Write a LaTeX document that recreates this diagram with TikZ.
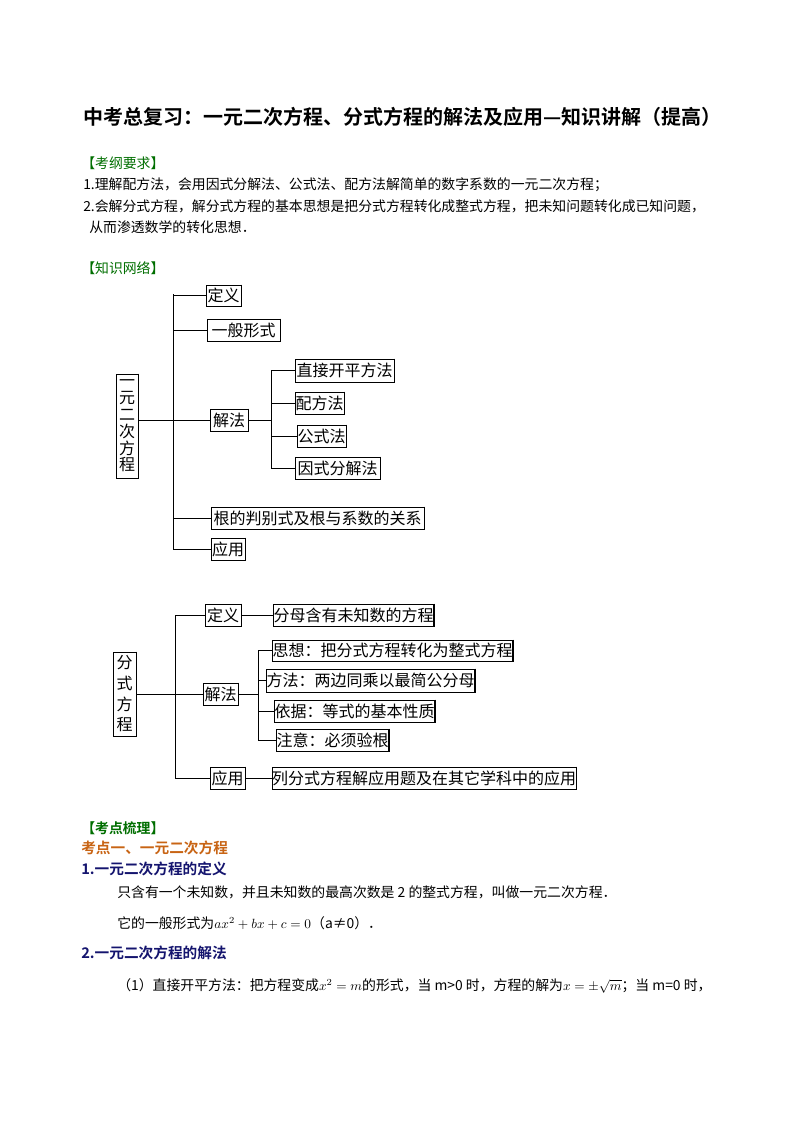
\documentclass[tikz,border=0pt]{standalone}
\usepackage{fontspec}
\setmainfont{Noto Sans CJK SC}
\newfontfamily\cjkb{Noto Sans CJK SC Bold}
\definecolor{kgreen}{RGB}{0,110,0}
\definecolor{korange}{RGB}{200,100,20}
\definecolor{kblue}{RGB}{20,20,110}
\tikzset{
  box/.style={draw, line width=0.6pt, inner sep=0pt, font=\fontsize{12}{13}\selectfont},
  txt/.style={anchor=west, inner sep=0pt, font=\fontsize{10.4}{12}\selectfont},
  ln/.style={line width=0.6pt}
}
\newcommand\bx[6]{\node[box, minimum width=#4*0.75pt, minimum height=#5*0.75pt] (#1) at (#2,#3) {#6};
  \draw[line width=1.3pt] (#1.north east) -- (#1.south east) -- (#1.south west);}
\begin{document}
\begin{tikzpicture}[x=0.75pt,y=-0.75pt]
\useasboundingbox (0,0) rectangle (794,1123);
\node[txt, font=\cjkb\fontsize{15}{17}\selectfont] (title) at (83,117) {中考总复习：一元二次方程、分式方程的解法及应用—知识讲解（提高）};
\node[txt, text=kgreen] (h1) at (81,163) {【考纲要求】};
\node[txt] (l1) at (83,185) {1.理解配方法，会用因式分解法、公式法、配方法解简单的数字系数的一元二次方程；};
\node[txt] (l2) at (83,206) {2.会解分式方程，解分式方程的基本思想是把分式方程转化成整式方程，把未知问题转化成已知问题，};
\node[txt] (l3) at (89,227) {从而渗透数学的转化思想．};
\node[txt, text=kgreen] (h2) at (81,268) {【知识网络】};

% tree 1
\node[box, minimum width=22*0.75pt, minimum height=104*0.75pt, align=center, font=\fontsize{12}{12.6}\selectfont] (r1) at (127,426) {一\\元\\二\\次\\方\\程};
\draw[line width=1.3pt] (r1.north east) -- (r1.south east) -- (r1.south west);
\bx{d1}{223.5}{295.5}{35}{21}{定义}
\bx{g1}{243.5}{330}{73}{22}{一般形式}
\bx{j1}{229}{420}{38}{22}{解法}
\bx{z1}{344.5}{370.5}{99}{23}{直接开平方法}
\bx{p1}{319.5}{403}{49}{22}{配方法}
\bx{f1}{321.5}{436}{49}{22}{公式法}
\bx{y1}{337.5}{468}{85}{22}{因式分解法}
\bx{k1}{317.5}{518}{213}{22}{根的判别式及根与系数的关系}
\bx{a1}{228}{549}{34}{22}{应用}
\coordinate (t1a) at (173,294);
\coordinate (t1b) at (173,549);
\coordinate (s1a) at (271,370);
\coordinate (s1b) at (271,468);
\draw[ln] (t1a) -- (t1b);
\draw[ln] (r1.east |- j1.west) -- (j1.west);
\foreach \n in {d1,g1,k1,a1} \draw[ln] (\n.west -| t1a) -- (\n.west);
\draw[ln] (s1a) -- (s1b);
\draw[ln] (j1.east) -- (j1.east -| s1a);
\foreach \n in {z1,p1,f1,y1} \draw[ln] (\n.west -| s1a) -- (\n.west);

% tree 2
\node[box, minimum width=23*0.75pt, minimum height=84*0.75pt, align=center, font=\fontsize{12}{15.5}\selectfont] (r2) at (124.5,694) {分\\式\\方\\程};
\draw[line width=1.3pt] (r2.north east) -- (r2.south east) -- (r2.south west);
\bx{d2}{223}{615}{36}{22}{定义}
\bx{m2}{353.5}{615}{157}{22}{分母含有未知数的方程}
\bx{j2}{220.5}{694}{35}{22}{解法}
\bx{s2}{392.5}{650.5}{233}{21}{思想：把分式方程转化为整式方程}
\bx{f2}{370.5}{680.5}{187}{23}{方法：两边同乘以最简公分母}
\bx{y2}{354.5}{711}{155}{22}{依据：等式的基本性质}
\bx{z2}{332.5}{740}{111}{22}{注意：必须验根}
\bx{a2}{227.5}{778}{35}{22}{应用}
\bx{l2b}{424}{778}{294}{22}{列分式方程解应用题及在其它学科中的应用}
\coordinate (t2a) at (175,615);
\coordinate (t2b) at (175,778);
\coordinate (s2a) at (258,650);
\coordinate (s2b) at (258,741);
\draw[ln] (t2a) -- (t2b);
\draw[ln] (r2.east) -- (j2.west);
\foreach \n in {d2,a2} \draw[ln] (\n.west -| t2a) -- (\n.west);
\draw[ln] (d2.east) -- (m2.west);
\draw[ln] (a2.east) -- (l2b.west);
\draw[ln] (s2a) -- (s2b);
\draw[ln] (j2.east) -- (j2.east -| s2a);
\foreach \n in {s2,f2,y2,z2} \draw[ln] (\n.west -| s2a) -- (\n.west);

% bottom text
\node[txt, text=kgreen, font=\cjkb\fontsize{10.4}{12}\selectfont] (h3) at (81,828) {【考点梳理】};
\node[txt, text=korange, font=\cjkb\fontsize{11}{12}\selectfont] (h4) at (81,848) {考点一、一元二次方程};
\node[txt, text=kblue, font=\cjkb\fontsize{11}{12}\selectfont] (h5) at (81,869) {1.一元二次方程的定义};
\node[txt] (b1) at (117,892) {只含有一个未知数，并且未知数的最高次数是 2 的整式方程，叫做一元二次方程．};
\node[txt] (b2) at (117,923) {它的一般形式为$ax^2+bx+c=0$（a≠0）．};
\node[txt, text=kblue, font=\cjkb\fontsize{11}{12}\selectfont] (h6) at (81,953) {2.一元二次方程的解法};
\node[txt] (b3) at (117,986) {（1）直接开平方法：把方程变成$x^2=m$的形式，当 m>0 时，方程的解为$x=\pm\sqrt{m}$；当 m=0 时，};
\end{tikzpicture}
\end{document}
